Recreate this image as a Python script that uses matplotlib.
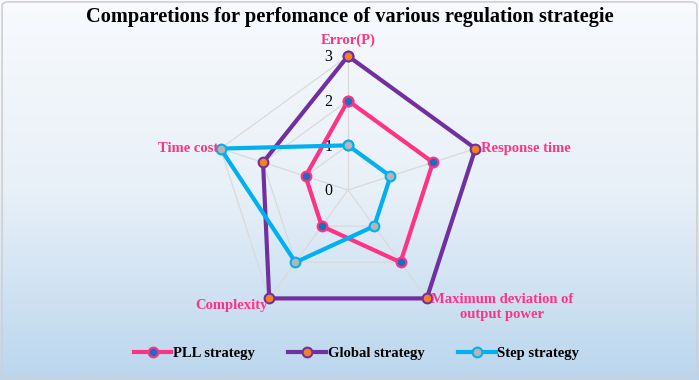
import numpy as np
import matplotlib
matplotlib.use("Agg")
import matplotlib.pyplot as plt
from matplotlib.colors import LinearSegmentedColormap
from matplotlib.patches import FancyBboxPatch

plt.rcParams['font.family'] = ['Liberation Serif', 'DejaVu Serif']

categories = ['Error(P)', 'Response time', 'Maximum deviation of\noutput power', 'Complexity', 'Time cost']
pll = [2, 2, 2, 1, 1]
global_s = [3, 3, 3, 3, 2]
step = [1, 1, 1, 2, 3]
r_ticks = [0, 1, 2, 3]

fig = plt.figure(figsize=(6.99, 3.8), dpi=100)

# background gradient
bg = fig.add_axes([0, 0, 1, 1], zorder=-10)
cmap = LinearSegmentedColormap.from_list('bg', ['#F8FAFD', '#E8F0F8', '#BAD6EE'])
grad = np.linspace(0, 1, 256).reshape(-1, 1)
bg.imshow(grad, aspect='auto', cmap=cmap, extent=[0, 1, 0, 1], origin='upper')
bg.set_xlim(0, 1)
bg.set_ylim(0, 1)
bg.axis('off')
bg.add_patch(FancyBboxPatch((0.003, 0.005), 0.994, 0.99, boxstyle='round,pad=0,rounding_size=0.01',
                            fill=False, ec='#D0D0D0', lw=1.2, transform=bg.transAxes))

ax = fig.add_axes([214 / 699, 56 / 380, 268 / 699, 268 / 380], projection='polar')
ax.set_theta_offset(np.pi / 2)
ax.set_theta_direction(-1)
ax.set_ylim(0, 3)
ax.patch.set_alpha(0)
ax.spines['polar'].set_visible(False)
ax.grid(False)
ax.set_xticks([])
ax.set_yticks([])

n = len(categories)
angles = np.linspace(0, 2 * np.pi, n, endpoint=False)
closed = np.append(angles, angles[0])

# polygon grid
for lvl in r_ticks[1:]:
    ax.plot(closed, [lvl] * (n + 1), color='#DADADA', lw=0.9, zorder=1)
for a in angles:
    ax.plot([a, a], [0, 3], color='#DADADA', lw=0.9, zorder=1)

for t in r_ticks:
    ax.annotate(str(t), (0, t), xytext=(-14, -1), textcoords='offset points',
                ha='center', va='center', fontsize=11.5, color='black')

series = [
    ('PLL strategy', pll, '#FF3385', '#1C6DC1'),
    ('Global strategy', global_s, '#7030A0', '#F58220'),
    ('Step strategy', step, '#00B0F0', '#B5B5B5'),
]
for label, vals, lc, mc in series:
    v = vals + vals[:1]
    ax.plot(closed, v, color=lc, lw=3, marker='o', markersize=7,
            markerfacecolor=mc, markeredgecolor=lc, markeredgewidth=1.5,
            label=label, zorder=3, clip_on=False)

lab_kw = dict(color='#FF3385', fontsize=10.5, fontweight='bold', textcoords='offset points')
ax.annotate(categories[0], (angles[0], 3), xytext=(0, 11), ha='center', va='center', **lab_kw)
ax.annotate(categories[1], (angles[1], 3), xytext=(4, 0), ha='left', va='center', **lab_kw)
ax.annotate(categories[2], (angles[2], 3), xytext=(3, -6), ha='left', va='center',
            multialignment='center', **lab_kw)
ax.annotate(categories[3], (angles[3], 3), xytext=(-1, -5), ha='right', va='center', **lab_kw)
ax.annotate(categories[4], (angles[4], 3), xytext=(-2, 0), ha='right', va='center', **lab_kw)

fig.text(0.5, 0.955, 'Comparetions for perfomance of various regulation strategie',
         ha='center', va='center', fontsize=14.7, fontweight='bold')

fig.legend(loc='center', bbox_to_anchor=(0.51, 0.07), ncol=3, frameon=False,
           prop={'weight': 'bold', 'size': 10.5}, handlelength=2.6, handletextpad=0.1,
           columnspacing=2.3)

fig.savefig('out.png', dpi=100)
